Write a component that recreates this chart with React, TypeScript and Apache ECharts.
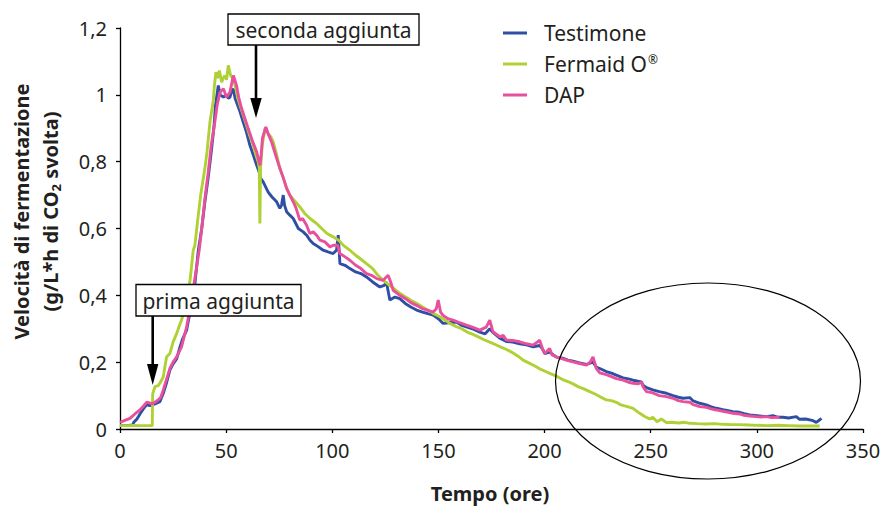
import React, { useEffect, useRef } from "react";
import * as echarts from "echarts";

const seriesNames = ["Testimone", "Fermaid O®", "DAP"];
const seriesColors = ["#2f4fa5", "#afd135", "#e8509c"];

const xTicks = { min: 0, max: 350, interval: 50 };
const yTicks = { min: 0, max: 1.2, interval: 0.2 };

// Testimone (ore, g/L*h)
const testimone: number[][] = [
  [0,0.01],[3,0.01],[6,0.012],[6.5,0.02],[8,0.03],[9.4,0.045],[11,0.06],[12.6,0.073],[14,0.07],[15.7,0.073],
  [17.5,0.078],[18.8,0.082],[20.4,0.107],[22,0.14],[23.5,0.176],[25,0.195],[26.7,0.21],[28,0.24],[29.5,0.27],
  [31.4,0.296],[33,0.35],[35.3,0.435],[36.9,0.535],[38.5,0.6],[40,0.68],[41.5,0.75],[43,0.83],[44.2,0.9],
  [45,0.97],[46.3,1.028],[47.2,1.0],[48.7,0.993],[50,1.0],[51,0.99],[51.8,0.993],[52.6,1.01],[53.4,1.018],
  [54.2,0.99],[54.9,0.978],[56.5,0.95],[58,0.919],[59.5,0.89],[61.2,0.849],[62.8,0.82],[64.4,0.789],
  [65.5,0.77],[66.3,0.75],[67.5,0.739],[69.8,0.709],[71.5,0.695],[73.8,0.68],[75.3,0.66],[76.1,0.67],
  [76.9,0.7],[77.5,0.67],[78.5,0.65],[80,0.64],[81.6,0.63],[84,0.6],[86.3,0.59],[87.9,0.58],[89.5,0.565],
  [91,0.555],[93.5,0.545],[95.7,0.535],[98,0.53],[100.4,0.525],[102,0.535],[102.8,0.58],[103.6,0.495],
  [106,0.49],[108.3,0.48],[111,0.47],[113.5,0.465],[116.1,0.455],[119,0.44],[122.4,0.425],[124.5,0.43],
  [125.5,0.44],[127.1,0.386],[129.5,0.395],[131.8,0.39],[134.5,0.375],[137,0.365],[139.7,0.356],
  [142.5,0.35],[145,0.345],[147.5,0.341],[150,0.33],[152.2,0.316],[155,0.318],[158.5,0.32],[161,0.31],
  [163.5,0.305],[166,0.3],[169.5,0.29],[172,0.285],[174.2,0.3],[175.5,0.29],[178.9,0.272],[182,0.262],
  [185,0.26],[188.3,0.255],[191.5,0.252],[194.6,0.246],[197.7,0.25],[199,0.24],[200.1,0.226],[202.4,0.23],
  [205.6,0.215],[208.5,0.212],[211,0.206],[213.4,0.203],[216.5,0.198],[219.7,0.193],[222.8,0.2],
  [224.4,0.185],[226,0.181],[229.1,0.172],[231.5,0.167],[233.8,0.161],[237,0.153],[239.5,0.15],
  [241.7,0.146],[244,0.143],[245.6,0.141],[246.5,0.13],[248,0.124],[251,0.117],[254,0.112],[257.4,0.107],
  [260.5,0.1],[263,0.095],[265.2,0.092],[268.4,0.094],[270,0.084],[273.1,0.077],[276.2,0.072],
  [278.5,0.066],[280.9,0.062],[284,0.058],[286.5,0.055],[288.7,0.052],[291.9,0.05],[294,0.046],
  [296.6,0.042],[300,0.04],[304.5,0.037],[307.6,0.04],[310,0.035],[312.3,0.035],[315,0.033],
  [318.6,0.037],[320.1,0.029],[323,0.03],[326,0.026],[328,0.02],[329.5,0.027],[330.4,0.032]
];

// Fermaid O®
const fermaid: number[][] = [
  [0,0.01],[3,0.01],[6,0.011],[9,0.01],[12,0.01],[15.2,0.01],[15.4,0.105],[16.5,0.127],[18,0.13],
  [18.8,0.137],[20.4,0.156],[21.5,0.2],[22,0.216],[23.5,0.226],[25,0.26],[26.7,0.286],[28,0.31],[29,0.326],
  [30.6,0.366],[32,0.41],[33,0.445],[34.5,0.535],[35.3,0.55],[36.5,0.62],[38,0.7],[40,0.78],[41,0.83],
  [42.4,0.92],[43.9,0.98],[44.5,1.03],[45.2,1.068],[46,1.05],[46.8,1.073],[47.9,1.038],[48.6,1.05],
  [49.4,1.058],[50.2,1.045],[51,1.088],[52.1,1.058],[53.4,1.048],[54.5,1.02],[55.5,0.99],[56.5,0.969],
  [58,0.94],[59.6,0.909],[61,0.88],[62.8,0.849],[64,0.82],[65.1,0.8],[65.6,0.78],[65.9,0.615],[66.2,0.78],
  [67,0.85],[68.3,0.899],[69.8,0.884],[71,0.875],[72.2,0.859],[73.8,0.82],[75.3,0.78],[77,0.75],
  [78.5,0.72],[80,0.7],[82,0.685],[84.7,0.665],[87,0.645],[89.5,0.63],[92.6,0.615],[95,0.6],[97.5,0.585],
  [100.4,0.575],[103,0.565],[105.5,0.548],[108.3,0.535],[111,0.52],[113.5,0.508],[116.1,0.495],[119,0.48],
  [121.5,0.46],[124,0.445],[127,0.43],[129,0.42],[131.8,0.406],[134.5,0.395],[137,0.385],[139.7,0.376],
  [142.5,0.365],[145,0.356],[147.5,0.346],[150.7,0.336],[153,0.326],[155.4,0.316],[158.5,0.306],
  [161,0.3],[163.5,0.29],[166.3,0.283],[169,0.275],[171.5,0.267],[174.2,0.26],[177,0.252],[179.5,0.245],
  [182.1,0.238],[185,0.228],[187.5,0.218],[189.9,0.206],[192.5,0.198],[195,0.19],[197.7,0.18],
  [200.5,0.172],[203,0.165],[205.6,0.158],[208.5,0.148],[211,0.142],[213.4,0.135],[216,0.126],
  [218.5,0.12],[221.3,0.112],[224,0.104],[226,0.097],[229.1,0.087],[231.5,0.085],[233.8,0.08],[236,0.072],
  [239,0.067],[241.7,0.062],[244.8,0.047],[247,0.038],[249.5,0.03],[251,0.035],[253,0.022],[255,0.03],
  [257.4,0.019],[260,0.02],[263,0.018],[266,0.02],[268.4,0.017],[272,0.016],[276,0.015],[280,0.016],
  [284,0.014],[288,0.013],[292,0.013],[296,0.012],[300,0.011],[305,0.01],[310,0.011],[315,0.01],
  [320,0.009],[325,0.009],[329.6,0.009]
];

// DAP
const dap: number[][] = [
  [0,0.02],[2,0.025],[4.7,0.032],[7,0.045],[9.4,0.057],[11,0.068],[12.6,0.08],[14,0.078],[14.9,0.075],
  [16.5,0.08],[18,0.087],[19.2,0.095],[20.4,0.117],[22,0.15],[23.5,0.181],[25,0.2],[26.7,0.216],[29,0.246],
  [31.4,0.306],[33.7,0.386],[36.1,0.485],[37.3,0.535],[38.5,0.6],[40,0.69],[41.6,0.77],[43,0.85],
  [44.7,0.92],[45.8,0.97],[47.1,1.008],[48.7,1.018],[50.2,0.993],[51.8,1.008],[52.5,1.03],[53.4,1.058],
  [54.9,1.028],[56,0.99],[57.3,0.959],[58.8,0.93],[60.4,0.899],[62.5,0.86],[64.4,0.829],[65.9,0.789],
  [66.5,0.82],[67.1,0.87],[68.7,0.904],[70,0.88],[71.4,0.859],[73.3,0.82],[75.3,0.78],[77,0.75],
  [78.5,0.72],[80,0.7],[81.6,0.68],[83,0.66],[84.7,0.625],[86,0.63],[87.9,0.61],[89.4,0.585],[91,0.59],
  [92.6,0.58],[94.2,0.565],[96.5,0.56],[98.9,0.545],[100.5,0.55],[102.5,0.55],[103.6,0.525],[106,0.515],
  [108.3,0.505],[111,0.49],[113.5,0.48],[116.1,0.465],[118.5,0.46],[121,0.45],[124,0.445],[126.3,0.46],
  [127.5,0.44],[128.7,0.415],[131.8,0.4],[134.5,0.39],[137,0.378],[139.7,0.37],[142.5,0.36],[145,0.355],
  [147.5,0.35],[149,0.36],[149.9,0.386],[151,0.35],[152.2,0.34],[154.5,0.33],[156.9,0.326],[160,0.318],
  [163.2,0.311],[166,0.305],[169.5,0.296],[172.5,0.305],[174.2,0.326],[175.7,0.291],[178.9,0.276],
  [180.5,0.28],[182,0.266],[185,0.265],[188.3,0.261],[191.5,0.255],[194.6,0.251],[196.5,0.26],
  [197.7,0.266],[199,0.24],[200.1,0.226],[202.4,0.241],[203.5,0.222],[205.6,0.216],[208.5,0.21],
  [211,0.205],[213.4,0.201],[216.5,0.196],[219.7,0.191],[221.5,0.2],[222.8,0.216],[224.4,0.181],
  [226,0.168],[229.1,0.163],[231.5,0.157],[233.8,0.151],[237,0.146],[239.5,0.14],[241.7,0.137],
  [244,0.135],[245.6,0.14],[246.5,0.125],[248,0.112],[251,0.108],[254,0.1],[257.4,0.097],[260.5,0.092],
  [263,0.085],[265.2,0.082],[268.4,0.08],[270,0.073],[273.1,0.067],[276.2,0.065],[278.5,0.06],
  [280.9,0.057],[284,0.053],[286.5,0.05],[288.7,0.047],[291.9,0.045],[294,0.041],[296.6,0.039],
  [299.7,0.037],[302,0.036],[304.5,0.037],[307,0.034],[310.7,0.035]
];

const annotations = ["seconda aggiunta", "prima aggiunta"];
const xTitle = "Tempo (ore)";
const yTitleLine1 = "Velocità di fermentazione";

const FONT = "'Noto Sans', 'Open Sans', sans-serif";
const INK = "#231f20";

export default function App() {
  const ref = useRef<HTMLDivElement>(null);

  useEffect(() => {
    if (!ref.current) return;
    const chart = echarts.init(ref.current, undefined, { renderer: "svg" });
    const fmt = (v: number) => {
      const r = Math.round(v * 10) / 10;
      return String(r).replace(".", ",");
    };
    const allData = [testimone, fermaid, dap];
    chart.setOption({
      animation: false,
      backgroundColor: "#ffffff",
      textStyle: { fontFamily: FONT },
      grid: { left: 120, right: 25, top: 28, bottom: 77, outerBoundsMode: "none", containLabel: false },
      legend: {
        orient: "vertical",
        left: 498,
        top: 17,
        itemWidth: 24,
        itemHeight: 3,
        itemGap: 9,
        icon: "rect",
        data: seriesNames,
        formatter: (name: string) => name.replace("®", "{sup|®}"),
        textStyle: {
          fontFamily: FONT,
          fontSize: 21,
          color: INK,
          lineHeight: 22,
          padding: [0, 0, 0, 12],
          rich: {
            sup: { fontFamily: FONT, fontSize: 12, color: INK, lineHeight: 22, verticalAlign: "top", padding: [0, 0, 8, 1] },
          },
        },
      },
      xAxis: {
        type: "value",
        min: xTicks.min,
        max: xTicks.max,
        interval: xTicks.interval,
        splitLine: { show: false },
        axisLine: { lineStyle: { color: "#000", width: 1.3 } },
        axisTick: { show: true, length: 4, lineStyle: { color: "#000", width: 1.3 } },
        axisLabel: { fontFamily: FONT, fontSize: 20, color: INK, margin: 11 },
      },
      yAxis: {
        type: "value",
        min: yTicks.min,
        max: yTicks.max,
        interval: yTicks.interval,
        splitLine: { show: false },
        axisLine: { show: true, lineStyle: { color: "#000", width: 1.3 } },
        axisTick: { show: true, length: 4, lineStyle: { color: "#000", width: 1.3 } },
        axisLabel: { fontFamily: FONT, fontSize: 20, color: INK, margin: 13, formatter: fmt },
      },
      series: seriesNames.map((name, i) => ({
        name,
        type: "line",
        data: allData[i],
        showSymbol: false,
        symbol: "none",
        color: seriesColors[i],
        lineStyle: { width: 2.9, color: seriesColors[i] },
        z: 2 + i,
      })),
      graphic: [
        {
          type: "text",
          x: 21,
          y: 211.5,
          rotation: Math.PI / 2,
          z: 100,
          style: {
            text: yTitleLine1,
            font: `bold 20px ${FONT}`,
            fill: INK,
            align: "center",
            verticalAlign: "middle",
          },
        },
        {
          type: "text",
          x: 50,
          y: 211.5,
          rotation: Math.PI / 2,
          z: 100,
          style: {
            text: "{a|(g/L*h di CO}{s|2}{a| svolta)}",
            align: "center",
            verticalAlign: "middle",
            fill: INK,
            rich: {
              a: { fontFamily: FONT, fontWeight: "bold", fontSize: 20, lineHeight: 24, fill: INK, color: INK },
              s: { fontFamily: FONT, fontWeight: "bold", fontSize: 13, lineHeight: 13, verticalAlign: "bottom", fill: INK, color: INK, padding: [6, 0, 0, 0] },
            },
          },
        },
        {
          type: "text",
          x: 490,
          y: 493,
          z: 100,
          style: {
            text: xTitle,
            font: `bold 20px ${FONT}`,
            fill: INK,
            align: "center",
            verticalAlign: "middle",
          },
        },
        {
          type: "ellipse",
          z: 100,
          shape: { cx: 708, cy: 381, rx: 152.5, ry: 98 },
          style: { fill: "none", stroke: "#000", lineWidth: 1.2 },
        },
        {
          type: "rect",
          z: 100,
          shape: { x: 228, y: 14, width: 191, height: 31 },
          style: { fill: "#fff", stroke: "#000", lineWidth: 1.3 },
        },
        {
          type: "text",
          z: 101,
          x: 323.5,
          y: 30,
          style: { text: annotations[0], font: `21px ${FONT}`, fill: INK, align: "center", verticalAlign: "middle" },
        },
        {
          type: "line",
          z: 100,
          shape: { x1: 256, y1: 45, x2: 256, y2: 102 },
          style: { stroke: "#000", lineWidth: 2.6 },
        },
        {
          type: "polygon",
          z: 100,
          shape: { points: [[250.3, 98], [261.7, 98], [256, 118]] },
          style: { fill: "#000" },
        },
        {
          type: "rect",
          z: 100,
          shape: { x: 136, y: 284.5, width: 165, height: 31.5 },
          style: { fill: "#fff", stroke: "#000", lineWidth: 1.3 },
        },
        {
          type: "text",
          z: 101,
          x: 218.5,
          y: 300.5,
          style: { text: annotations[1], font: `21px ${FONT}`, fill: INK, align: "center", verticalAlign: "middle" },
        },
        {
          type: "line",
          z: 100,
          shape: { x1: 152.7, y1: 316, x2: 152.7, y2: 368 },
          style: { stroke: "#000", lineWidth: 2.6 },
        },
        {
          type: "polygon",
          z: 100,
          shape: { points: [[147, 364], [158.4, 364], [152.7, 385]] },
          style: { fill: "#000" },
        },
      ],
    });
    return () => chart.dispose();
  }, []);

  return (
    <div
      ref={ref}
      style={{ position: "fixed", left: 0, top: 0, width: 888, height: 506, background: "#fff" }}
    />
  );
}
